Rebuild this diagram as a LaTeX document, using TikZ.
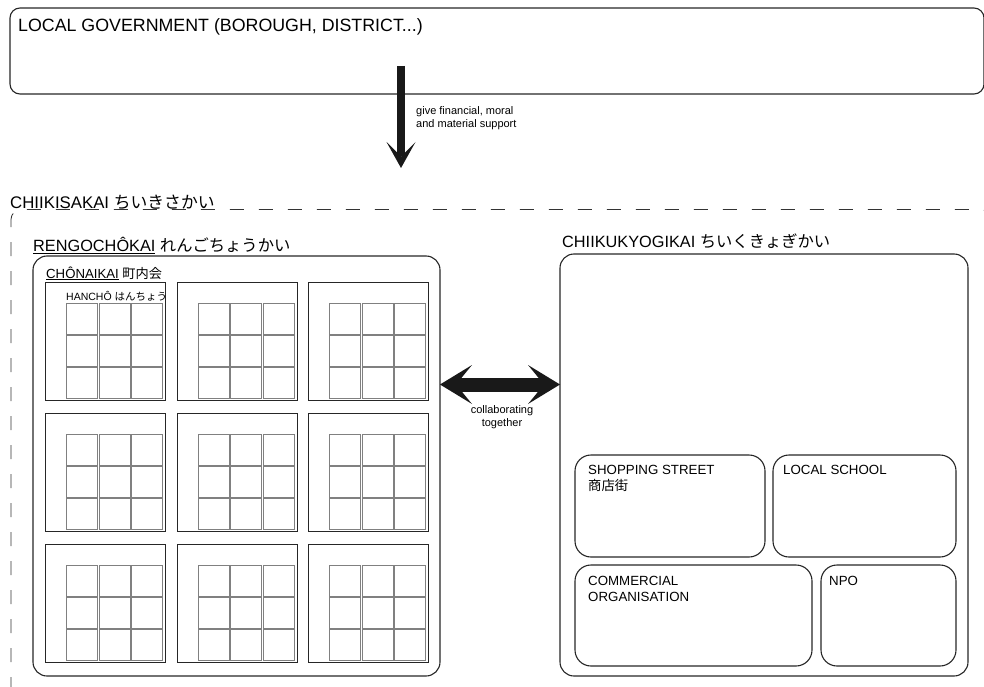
\documentclass[tikz,border=0pt]{standalone}
\usepackage{fontspec}
\setmainfont{Liberation Sans}
\newfontfamily\jp{Noto Sans CJK JP}
\usetikzlibrary{arrows.meta}

\begin{document}
\begin{tikzpicture}[x=1pt, y=-1pt,
  box/.style={draw=black!85, line width=1.1pt, rounded corners=#1, inner sep=0pt, outer sep=0pt, anchor=north west},
  box/.default=14pt,
  chobox/.style={draw=black!85, line width=0.9pt, inner sep=0pt, outer sep=0pt, anchor=north west, minimum width=120pt, minimum height=118pt},
  cell/.style={draw=black!50, line width=0.7pt, inner sep=0pt, anchor=north west, minimum size=31pt},
  lbl/.style={anchor=base west, inner sep=0pt, font=\fontsize{#1}{#1}\selectfont},
  lbl/.default=13.3,
  note/.style={inner sep=0pt, font=\fontsize{11}{12.5}\selectfont},
  bigarrow/.style={black!90, line width=14pt, {Stealth[length=32pt, width=39pt, inset=16pt, line width=0pt]}-{Stealth[length=32pt, width=39pt, inset=16pt, line width=0pt]}},
  suparrow/.style={black!90, line width=8pt, -{Stealth[length=26pt, width=29pt, inset=14.5pt, line width=0pt]}}]
\useasboundingbox (0,0) rectangle (984,687);

% chiikisakai, the whole area
\draw[black!80, line width=0.8pt, dash pattern=on 14pt off 15pt, rounded corners=10pt]
  (11,720) -- (11,209.5) -- (990,209.5) -- (990,720);
\node[lbl=16.8] (sakai-t) at (10,208) {CHIIKISAKAI {\jp ちいきさかい}};

% local government
\node[box=10pt, minimum width=974pt, minimum height=86pt] (gov) at (10,8) {};
\node[lbl=17.8] (gov-t) at (18,31.5) {LOCAL GOVERNMENT (BOROUGH, DISTRICT...)};
\coordinate (supfrom) at (401,66);
\coordinate (supto) at (401,168);
\draw[suparrow] (supfrom) -- (supto);
\node[note, anchor=north west, align=left] (sup-t) at (416,106.5) {give financial, moral\\and material support};

% rengochokai with the chonaikai
\node[box, minimum width=407pt, minimum height=420pt] (rengo) at (33,256) {};
\node[lbl=16.3] (rengo-t) at (33,251.5) {\underline{RENGOCHÔKAI} {\jp れんごちょうかい}};
\foreach \i in {0,1,2}
  \foreach \j in {0,1,2} {
    \node[chobox] (cho\i\j) at ({45.5+131.5*\i},{282+131*\j}) {};
    \foreach \k in {0,1,2}
      \foreach \l in {0,1,2}
        \node[cell] (cho\i\j-\k\l) at ({66+131.5*\i+32.5*\k},{303+131*\j+32*\l}) {};
  }
\node[lbl=13.2] (cho-t) at (46,278) {\underline{CHÔNAIKAI} {\jp 町内会}};
\node[lbl=10.5] (han-t) at (66,300) {HANCHÔ {\jp はんちょう}};

% chiikukyogikai
\node[box, minimum width=408pt, minimum height=422pt] (chiiku) at (560,254) {};
\node[lbl=16.3] (chiiku-t) at (562,247) {CHIIKUKYOGIKAI {\jp ちいくきょぎかい}};
\node[box=16pt, minimum width=190pt, minimum height=102pt] (shop) at (575,455) {};
\node[box=16pt, minimum width=183pt, minimum height=102pt] (school) at (773,455) {};
\node[box=16pt, minimum width=237pt, minimum height=101pt] (commerce) at (575,565) {};
\node[box=16pt, minimum width=135pt, minimum height=101pt] (npo) at (821,565) {};
\node[lbl] (shop-t) at (588,474) {SHOPPING STREET};
\node[lbl] (shop-j) at (588,490) {\jp 商店街};
\node[lbl] (school-t) at (783,474) {LOCAL SCHOOL};
\node[lbl] (commerce-t) at (588,585) {COMMERCIAL};
\node[lbl] (commerce-u) at (588,601) {ORGANISATION};
\node[lbl] (npo-t) at (829,585) {NPO};

% collaborating
\coordinate (collab) at (500,384.5);
\draw[bigarrow] (rengo.east |- collab) -- (chiiku.west |- collab);
\node[note, anchor=north, align=center] (collab-t) at (502,405.5) {collaborating\\together};
\end{tikzpicture}
\end{document}
